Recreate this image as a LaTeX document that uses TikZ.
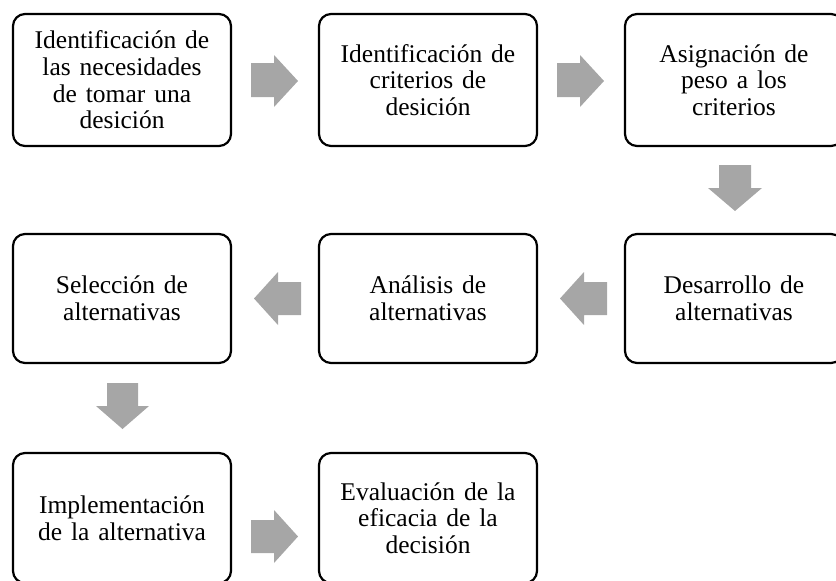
\documentclass[tikz,border=0pt]{standalone}
\usepackage{fontspec}
\setmainfont[WordSpace=1.4]{Liberation Serif}
\definecolor{arrgray}{HTML}{A6A6A6}
\tikzset{
  stepbox/.style={draw=black, line width=2.2pt, rounded corners=12pt, minimum width=218pt,
    align=center, inner sep=0pt, font=\fontsize{25.5}{26.6}\selectfont},
  blockarrow/.style={fill=arrgray, draw=none}
}
\begin{document}
\begin{tikzpicture}[x=1pt,y=-1pt]
\useasboundingbox (0,0) rectangle (836,581);
\clip (0,0) rectangle (836,581);
% row 1
\node[stepbox, minimum height=132pt] (b1) at (122,80) {Identificación de\\las necesidades\\de tomar una\\desición};
\node[stepbox, minimum height=132pt] (b2) at (428,80) {Identificación de\\criterios de\\desición};
\node[stepbox, minimum height=132pt] (b3) at (734,80) {Asignación de\\peso a los\\criterios};
% row 2
\node[stepbox, minimum height=129pt] (b4) at (734,298.5) {Desarrollo de\\alternativas};
\node[stepbox, minimum height=129pt] (b5) at (428,298.5) {Análisis de\\alternativas};
\node[stepbox, minimum height=129pt] (b6) at (122,298.5) {Selección de\\alternativas};
% row 3
\node[stepbox, minimum height=130pt] (b7) at (122,518) {Implementación\\de la alternativa};
\node[stepbox, minimum height=130pt] (b8) at (428,518) {Evaluación de la\\eficacia de la\\decisión};
% block arrows
\fill[blockarrow] (251,63)--(274,63)--(274,55)--(298,81)--(274,107)--(274,97)--(251,97)--cycle;
\fill[blockarrow] (557,63)--(580,63)--(580,55)--(604,81)--(580,107)--(580,97)--(557,97)--cycle;
\fill[blockarrow] (719,165)--(751,165)--(751,188)--(762,188)--(735,211)--(708,188)--(719,188)--cycle;
\fill[blockarrow] (607,282)--(584,282)--(584,272)--(560,298.5)--(584,325)--(584,315)--(607,315)--cycle;
\fill[blockarrow] (301,282)--(278,282)--(278,272)--(254,298.5)--(278,325)--(278,315)--(301,315)--cycle;
\fill[blockarrow] (107,383)--(138,383)--(138,406)--(149,406)--(122.5,429)--(96,406)--(107,406)--cycle;
\fill[blockarrow] (251,520)--(274,520)--(274,510)--(298,536.5)--(274,563)--(274,553)--(251,553)--cycle;
\end{tikzpicture}
\end{document}
